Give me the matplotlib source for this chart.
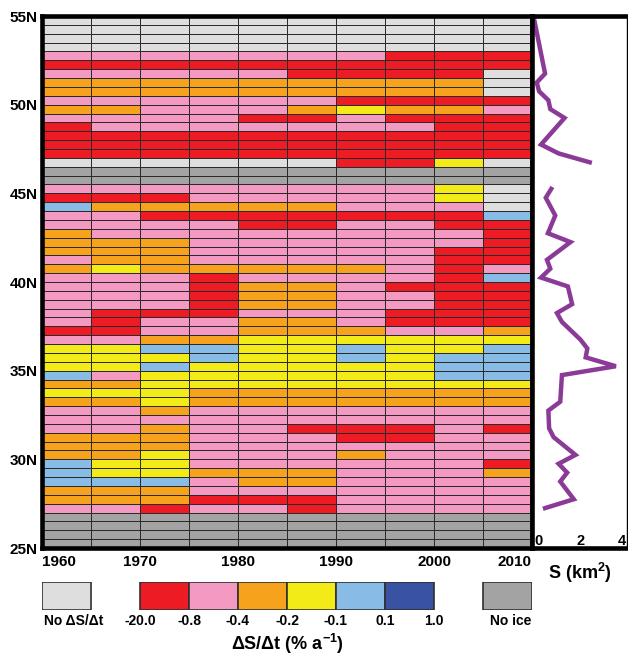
import numpy as np
import matplotlib
matplotlib.use("Agg")
import matplotlib.pyplot as plt
from matplotlib.colors import ListedColormap, BoundaryNorm
from matplotlib.patches import Rectangle

plt.rcParams['font.family'] = ['Liberation Sans', 'DejaVu Sans']
plt.rcParams['font.weight'] = 'bold'
plt.rcParams['mathtext.fontset'] = 'custom'
plt.rcParams['mathtext.rm'] = 'Liberation Sans:bold'
plt.rcParams['mathtext.it'] = 'Liberation Sans:bold'
plt.rcParams['mathtext.bf'] = 'Liberation Sans:bold'

########################## DATA
# column edges (5-yr periods) and row edges (0.5 deg bands, north -> south)
years = np.arange(1960, 2011, 5)
lats = np.arange(55, 24.9, -0.5)

# R..D = rate classes, L = no dS/dt, N = no ice
cells = [
    "LLLLLLLLLL", "LLLLLLLLLL", "LLLLLLLLLL", "LLLLLLLLLL",
    "PPPPPPPRRR", "RRRRRRRRRR", "PPPPPRRRRL", "OOOOOOOOOL",
    "OOOOOOOOOL", "PPPPPPRRRR", "OOPPPOYOOP", "PPPPRRPRRR",
    "RPPPPPPPRR", "RRRRRRRRRR", "RRRRRRRRRR", "RRRRRRRRRR",
    "LLLLLLRRYL", "NNNNNNNNNN", "NNNNNNNNNN", "PPPPPPPPYL",
    "RRRPPPPPYL", "BOOOOOPPPL", "PPRRRRRRRB", "PPPPRRPPRR",
    "OPPPPPPPPR", "OOOPPPPPPR", "OOOPPPPPRR", "POOPPPPPRR",
    "OYOOOOOPRP", "PPPRPPPPRB", "PPPROOPRRR", "PPPROOPPRR",
    "PPPROOPPRR", "PRRRPPPRRR", "PRPPOOPRRR", "RRPPOOOPPO",
    "PPOOYYYYYY", "YYBBYYBYYB", "YYYBYYBYBB", "YYBYYYYYBB",
    "BPYYYYYYBB", "OOYYYYYYYY", "YYYOOOOOOO", "OOYOOOOOOO",
    "PPOPPPPPPP", "PPPPPPPPPP", "PPOPPRRRPR", "OOOPPPRRPP",
    "OOOPPPPPPP", "OOYPPPOPPP", "BYYPPPPPPR", "BYYOOOPPPO",
    "BBBPOOPPPP", "OOOPPPPPPP", "OOORRRPPPP", "PPRPPRPPPP",
    "NNNNNNNNNN", "NNNNNNNNNN", "NNNNNNNNNN", "NNNNNNNNNN",
]
codes = "RPOYBDLN"
colors = ['#ED1C24', '#F49AC2', '#F7A21D', '#F2EB18', '#88BCE6', '#3A52A3',
          '#DEDEDE', '#A3A3A3']
class_bounds = ['-20.0', '-0.8', '-0.4', '-0.2', '-0.1', '0.1', '1.0']

# glacier area profile, two pieces (gap = no ice)
s_lat_n = [54.75, 51.75, 51.25, 50.75, 50.25, 49.75, 49.25, 47.75, 47.25, 46.75]
s_val_n = [0.10, 0.55, 0.20, 0.30, 0.69, 0.77, 1.37, 0.38, 1.12, 2.43]
s_lat_s = [45.25, 44.75, 43.75, 42.75, 42.25, 41.25, 40.75, 40.25, 39.75,
           38.75, 38.25, 37.75, 36.75, 36.25, 35.75, 35.25, 34.75, 33.25,
           32.75, 31.75, 31.25, 30.25, 29.75, 29.25, 28.75, 27.75, 27.25]
s_val_s = [0.81, 0.58, 0.98, 0.67, 1.62, 0.63, 0.77, 0.38, 1.51,
           1.69, 1.05, 1.26, 2.04, 2.33, 2.26, 3.53, 1.26, 1.19,
           0.69, 0.72, 0.91, 1.83, 1.12, 1.48, 1.19, 1.76, 0.55]
########################## DATA

W, H = 628, 655
fig = plt.figure(figsize=(W / 100, H / 100), dpi=100)

def px(x0, y0, x1, y1):
    return [x0 / W, 1 - y1 / H, (x1 - x0) / W, (y1 - y0) / H]

grid = np.array([[codes.index(c) for c in row] for row in cells])
cmap = ListedColormap(colors)
norm = BoundaryNorm(np.arange(-0.5, len(colors)), len(colors))

ax = fig.add_axes(px(42, 16, 532, 548))
ax.pcolormesh(years, lats, grid, cmap=cmap, norm=norm,
              edgecolors='#2a2a2a', linewidth=0.55)
ax.set_xlim(1960, 2010)
ax.set_ylim(25, 55)
ax.set_yticks(np.arange(25, 56, 5))
ax.set_yticklabels([f"{v}N" for v in range(25, 56, 5)], fontsize=11, fontweight='bold')
ax.set_xticks(np.arange(1960, 2011, 10))
ax.set_xticklabels([str(v) for v in range(1960, 2011, 10)], fontsize=11, fontweight='bold')
ax.get_xticklabels()[0].set_ha('left')
ax.get_xticklabels()[-1].set_ha('right')
ax.tick_params(length=0, pad=5)
ax.tick_params(axis='y', pad=3)
for s in ax.spines.values():
    s.set_linewidth(3.3)

# right panel
ax2 = fig.add_axes(px(532, 16, 627, 548))
ax2.plot(s_val_n, s_lat_n, color='#8B3A98', lw=3.2, solid_joinstyle='miter')
ax2.plot(s_val_s, s_lat_s, color='#8B3A98', lw=3.2, solid_joinstyle='miter')
ax2.set_xlim(0, 4)
ax2.set_ylim(25, 55)
ax2.set_xticks([])
ax2.set_yticks([])
for k in ['top', 'bottom', 'left']:
    ax2.spines[k].set_linewidth(3.3)
ax2.spines['right'].set_linewidth(1)
tr = ax2.get_xaxis_transform()
ax2.text(0.12, 0.014, "0", transform=tr, ha='left', va='center', fontsize=10.5, fontweight='bold')
ax2.text(2.05, 0.014, "2", transform=tr, ha='center', va='center', fontsize=10.5, fontweight='bold')
ax2.text(3.95, 0.014, "4", transform=tr, ha='right', va='center', fontsize=10.5, fontweight='bold')
fig.text(580 / W, 1 - 573 / H, "S (km$^{2}$)", ha='center', va='center',
         fontsize=13, fontweight='bold')

# legend strip
ax3 = fig.add_axes(px(42, 582, 532, 610))
ax3.set_xlim(1960, 2010)
ax3.set_ylim(0, 1)
ax3.axis('off')
ax3.add_patch(Rectangle((1960, 0), 5, 1, facecolor=colors[6], edgecolor='#303030', lw=1.2))
ax3.add_patch(Rectangle((2005, 0), 5, 1, facecolor=colors[7], edgecolor='#303030', lw=1.2))
for i in range(6):
    ax3.add_patch(Rectangle((1970 + 5 * i, 0), 5, 1, facecolor=colors[i],
                            edgecolor='#303030', lw=1.2))
lab_y = 1 - 621 / H
fig.text(44 / W, lab_y, "No ΔS/Δt", ha='left', va='center', fontsize=10, fontweight='bold')
fig.text(531 / W, lab_y, "No ice", ha='right', va='center', fontsize=10, fontweight='bold')
for i, lab in enumerate(class_bounds):
    ax3.text(1970 + 5 * i, -0.4, lab, ha='center', va='center', fontsize=10, fontweight='bold')
fig.text(287 / W, 1 - 644 / H, "ΔS/Δt (% a$^{-1}$)", ha='center', va='center',
         fontsize=13, fontweight='bold')

fig.savefig("out.png", dpi=100)
